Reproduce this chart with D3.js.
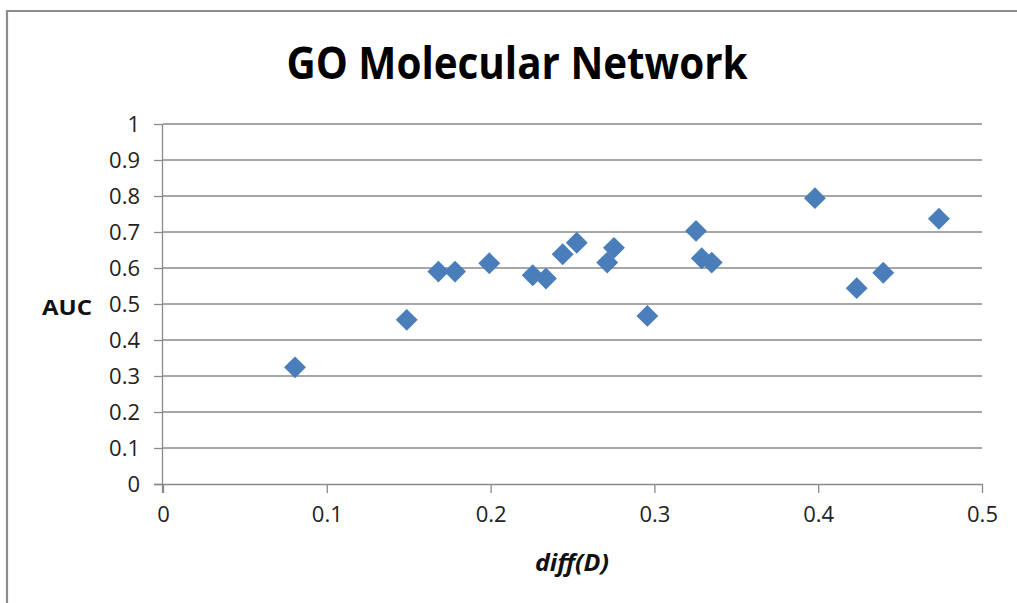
<!DOCTYPE html>
<html><head><meta charset="utf-8">
<script src="https://cdn.jsdelivr.net/npm/d3@7"></script>
<style>html,body{margin:0;padding:0;background:#fff;overflow:hidden;} svg{display:block;}</style>
</head><body>
<svg id="c" width="1017" height="603"></svg>
<script>
const title = "GO Molecular Network";
const xLabel = "diff(D)";
const yLabel = "AUC";
const xTicks = [0, 0.1, 0.2, 0.3, 0.4, 0.5];
const yTicks = [0, 0.1, 0.2, 0.3, 0.4, 0.5, 0.6, 0.7, 0.8, 0.9, 1];
const xValues = [0.0806, 0.1488, 0.1681, 0.1783, 0.1992, 0.2257, 0.2338, 0.2440, 0.2526, 0.2712, 0.2753, 0.2957, 0.3254, 0.3289, 0.3350, 0.3980, 0.4235, 0.4397, 0.4737];
const yValues = [0.324, 0.456, 0.590, 0.590, 0.613, 0.580, 0.571, 0.638, 0.670, 0.615, 0.656, 0.467, 0.703, 0.627, 0.615, 0.794, 0.544, 0.587, 0.737];

(function () {
const svg = d3.select("#c");
const font = "'Open Sans', 'Liberation Sans', sans-serif";
const pL = 163, pR = 982, pT = 124, pB = 484;
const x = d3.scaleLinear().domain([0, 0.5]).range([pL, pR]);
const y = d3.scaleLinear().domain([0, 1]).range([pB, pT]);

// outer frame (top and left edges only; others fall outside the picture)
svg.append("path").attr("d", "M7,603V11H1017")
  .attr("fill", "none").attr("stroke", "#8c8c8c").attr("stroke-width", 2.2);

// gridlines
svg.append("g").selectAll("line").data(yTicks.filter(d => d > 0)).join("line")
  .attr("x1", pL).attr("x2", pR).attr("y1", d => y(d)).attr("y2", d => y(d))
  .attr("stroke", "#8a8a8a").attr("stroke-width", 1.3);

// y axis
const ya = svg.append("g").attr("transform", `translate(${pL},0)`)
  .call(d3.axisLeft(y).tickValues(yTicks).tickSize(9).tickPadding(14).tickFormat(d3.format("")));
ya.select(".domain").attr("stroke", "#8a8a8a").attr("stroke-width", 1.3).attr("d", `M-0.5,${pB + 9}V${pT}`);
ya.selectAll(".tick line").attr("stroke", "#8a8a8a").attr("stroke-width", 1.3);
ya.selectAll(".tick text").attr("font-family", font).attr("font-size", 22).attr("fill", "#222");

// x axis
const xa = svg.append("g").attr("transform", `translate(0,${pB})`)
  .call(d3.axisBottom(x).tickValues(xTicks).tickSize(9).tickPadding(13).tickFormat(d3.format("")));
xa.select(".domain").attr("stroke", "#8a8a8a").attr("stroke-width", 1.3).attr("d", `M${pL - 9},0.5H${pR}`);
xa.selectAll(".tick line").attr("stroke", "#8a8a8a").attr("stroke-width", 1.3);
xa.selectAll(".tick text").attr("font-family", font).attr("font-size", 22).attr("fill", "#222");

// points
const diamond = d3.symbol().type(d3.symbolSquare).size(240);
svg.append("g").selectAll("path").data(xValues.map((v, i) => [v, yValues[i]])).join("path")
  .attr("d", diamond)
  .attr("transform", d => `translate(${x(d[0])},${y(d[1])}) rotate(45)`)
  .attr("fill", "#4a7ebb");

// title
svg.append("text").attr("x", 517).attr("y", 79).attr("text-anchor", "middle")
  .attr("font-family", font).attr("font-weight", "bold").attr("font-size", 45)
  .attr("textLength", 461).attr("lengthAdjust", "spacingAndGlyphs").attr("fill", "#000").text(title);

// axis labels
svg.append("text").attr("x", 67).attr("y", 315).attr("text-anchor", "middle")
  .attr("font-family", font).attr("font-weight", "bold").attr("font-size", 21)
  .attr("textLength", 50).attr("lengthAdjust", "spacingAndGlyphs").attr("fill", "#111").text(yLabel);
svg.append("text").attr("x", 572).attr("y", 571).attr("text-anchor", "middle")
  .attr("font-family", font).attr("font-weight", "bold").attr("font-style", "italic").attr("font-size", 23)
  .attr("textLength", 74).attr("lengthAdjust", "spacingAndGlyphs").attr("fill", "#111").text(xLabel);
})();
</script>
</body></html>
